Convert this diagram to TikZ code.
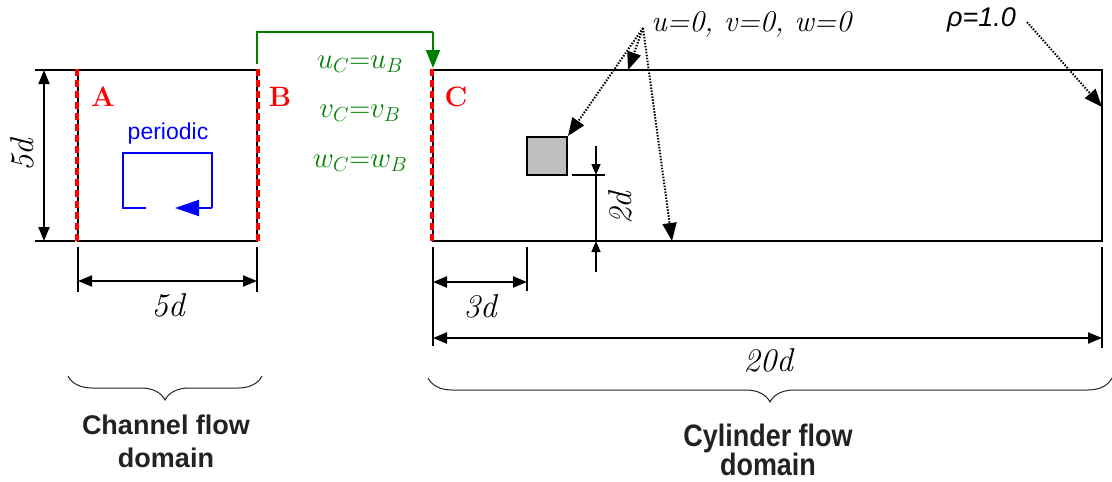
\RequirePackage{fix-cm}
\documentclass[tikz,border=0pt]{standalone}
\usepackage{fontspec}
\newfontfamily\arialfont{Liberation Sans}
\usetikzlibrary{arrows.meta,decorations.pathreplacing,calc}
\definecolor{grn}{RGB}{0,128,0}
\definecolor{txtgray}{RGB}{34,34,34}
\definecolor{sqgray}{RGB}{191,191,191}
\tikzset{
  domainbox/.style={draw, line width=2pt, inner sep=0pt},
  reddash/.style={red, line width=4pt, dash pattern=on 7pt off 4pt},
  dimline/.style={line width=2pt, {Triangle[length=14pt,width=11pt]}-{Triangle[length=14pt,width=11pt]}},
  smallarr/.style={line width=1.5pt, -{Triangle[length=11pt,width=9pt]}},
  extline/.style={line width=1.5pt},
  dotarr/.style={line width=2pt, dash pattern=on 1.5pt off 1.5pt, -{Triangle[length=18pt,width=14pt]}},
  dimlabel/.style={font=\fontsize{33}{40}\selectfont\itshape, inner sep=0pt},
  letterlabel/.style={red, font=\fontsize{28}{34}\selectfont\bfseries, inner sep=0pt},
  domainbrace/.style={decorate, decoration={brace,mirror,amplitude=24pt}, line width=1pt, txtgray},
  domaintext/.style={txtgray, align=center, inner sep=0pt},
  eqlabel/.style={grn, font=\fontsize{29}{34}\selectfont, inner sep=0pt},
}
\begin{document}
\begin{tikzpicture}[x=1pt,y=-1pt]
\useasboundingbox (0,0) rectangle (1112,482);
% domains
\node[domainbox, minimum width=179pt, minimum height=171pt] (chan) at (167.5,155.5) {};
\node[domainbox, minimum width=669pt, minimum height=171pt] (cyl) at (767.5,155.5) {};
\node[draw, line width=2pt, fill=sqgray, minimum width=40pt, minimum height=38pt, inner sep=0pt] (sq) at (547,156) {};
% red dashed boundaries
\draw[reddash] (chan.north west) -- (chan.south west);
\draw[reddash] (chan.north east) -- (chan.south east);
\draw[reddash] (cyl.north west) -- (cyl.south west);
% labels A B C
\node[letterlabel] (lA) at (103,97) {A};
\node[letterlabel] (lB) at (280,97) {B};
\node[letterlabel] (lC) at (456,97) {C};
% periodic
\node[blue, font=\arialfont\fontsize{23}{28}\selectfont, inner sep=0pt] (per) at (168,134) {periodic};
\coordinate (p1) at (146,208);
\coordinate (p2) at (123,153);
\coordinate (p3) at (212,208);
\coordinate (p4) at (175,208);
\draw[blue, line width=2pt] (p1) -| (p2) -| (p3);
\draw[blue, line width=2pt, -{Triangle[length=24pt,width=16pt]}] (p3) -- (p4);
% channel dims
\coordinate (lt1) at (35,70); \coordinate (lt2) at (75,70);
\coordinate (lb1) at (35,241); \coordinate (lb2) at (75,241);
\draw[extline] (lt1) -- (lt2);
\draw[extline] (lb1) -- (lb2);
\coordinate (va) at (44,70); \coordinate (vb) at (44,241);
\draw[dimline] (va) -- (vb);
\node[dimlabel, rotate=90] (l5dv) at (22,155) {5d};
\coordinate (bt1) at (78,247); \coordinate (bt2) at (78,292);
\coordinate (bt3) at (257,247); \coordinate (bt4) at (257,292);
\draw[extline] (bt1) -- (bt2);
\draw[extline] (bt3) -- (bt4);
\coordinate (ha) at (78,281); \coordinate (hb) at (257,281);
\draw[dimline] (ha) -- (hb);
\node[dimlabel] (l5dh) at (168,305) {5d};
% green coupling
\coordinate (g1) at (257,64);
\coordinate (g2) at (433,32);
\coordinate (g3) at (433,68);
\draw[grn, line width=2pt] (g1) |- (g2);
\draw[grn, line width=2pt, -{Triangle[length=18pt,width=14pt]}] (g2) -- (g3);
\node[eqlabel] (eu) at (360,64) {$u_{C}{=}u_{B}$};
\node[eqlabel] (ev) at (360,113) {$v_{C}{=}v_{B}$};
\node[eqlabel] (ew) at (360,163) {$w_{C}{=}w_{B}$};
% 2d dimension
\coordinate (t1) at (572,175); \coordinate (t2) at (605,175);
\coordinate (t3) at (572,241); \coordinate (t4) at (605,241);
\draw[extline] (t1) -- (t2);
\draw[line width=2.5pt] (t3) -- (t4);
\coordinate (d1) at (596,175); \coordinate (d2) at (596,241);
\draw[extline] (d1) -- (d2);
\coordinate (a1) at (596,146); \coordinate (a2) at (596,272);
\draw[smallarr] (a1) -- (d1);
\draw[smallarr] (a2) -- (d2);
\node[dimlabel, rotate=90] (l2d) at (620,208) {2d};
% 3d and 20d
\coordinate (c1) at (433,247); \coordinate (c2) at (433,346);
\coordinate (c3) at (527,247); \coordinate (c4) at (527,291);
\coordinate (c5) at (1102,247); \coordinate (c6) at (1102,348);
\draw[extline] (c1) -- (c2);
\draw[extline] (c3) -- (c4);
\draw[extline] (c5) -- (c6);
\coordinate (e1) at (433,282); \coordinate (e2) at (527,282);
\draw[dimline] (e1) -- (e2);
\node[dimlabel] (l3d) at (480,306) {3d};
\coordinate (f1) at (433,338); \coordinate (f2) at (1102,338);
\draw[dimline] (f1) -- (f2);
\node[dimlabel] (l20d) at (768,360) {20d};
% wall conditions
\node[anchor=west, font=\fontsize{30}{34}\selectfont\itshape, inner sep=0pt] (wall) at (651,24) {u=0, v=0, w=0};
\coordinate (w0) at (643,28);
\coordinate (wt) at (628,70);
\coordinate (wb) at (672,241);
\draw[dotarr] (w0) -- (wt);
\draw[dotarr] (w0) -- (sq.north east);
\draw[dotarr] (w0) -- (wb);
\node[anchor=east, font=\arialfont\itshape\fontsize{27}{32}\selectfont, inner sep=0pt] (rho) at (1016,20) {ρ=1.0};
\coordinate (r0) at (1027,22);
\coordinate (r1) at (1102,107);
\draw[dotarr] (r0) -- (r1);
% braces
\coordinate (b1) at (68,376); \coordinate (b2) at (262,376);
\draw[domainbrace] (b1) -- (b2);
\coordinate (b3) at (428,378); \coordinate (b4) at (1112,378);
\draw[domainbrace] (b3) -- (b4);
\node[domaintext, font=\arialfont\bfseries\fontsize{27}{33}\selectfont] (chtxt) at (166,441) {Channel flow\\domain};
\node[domaintext, font=\arialfont\bfseries\fontsize{31}{29}\selectfont, xscale=0.87] (cytxt) at (768,450) {Cylinder flow\\domain};
\end{tikzpicture}
\end{document}
